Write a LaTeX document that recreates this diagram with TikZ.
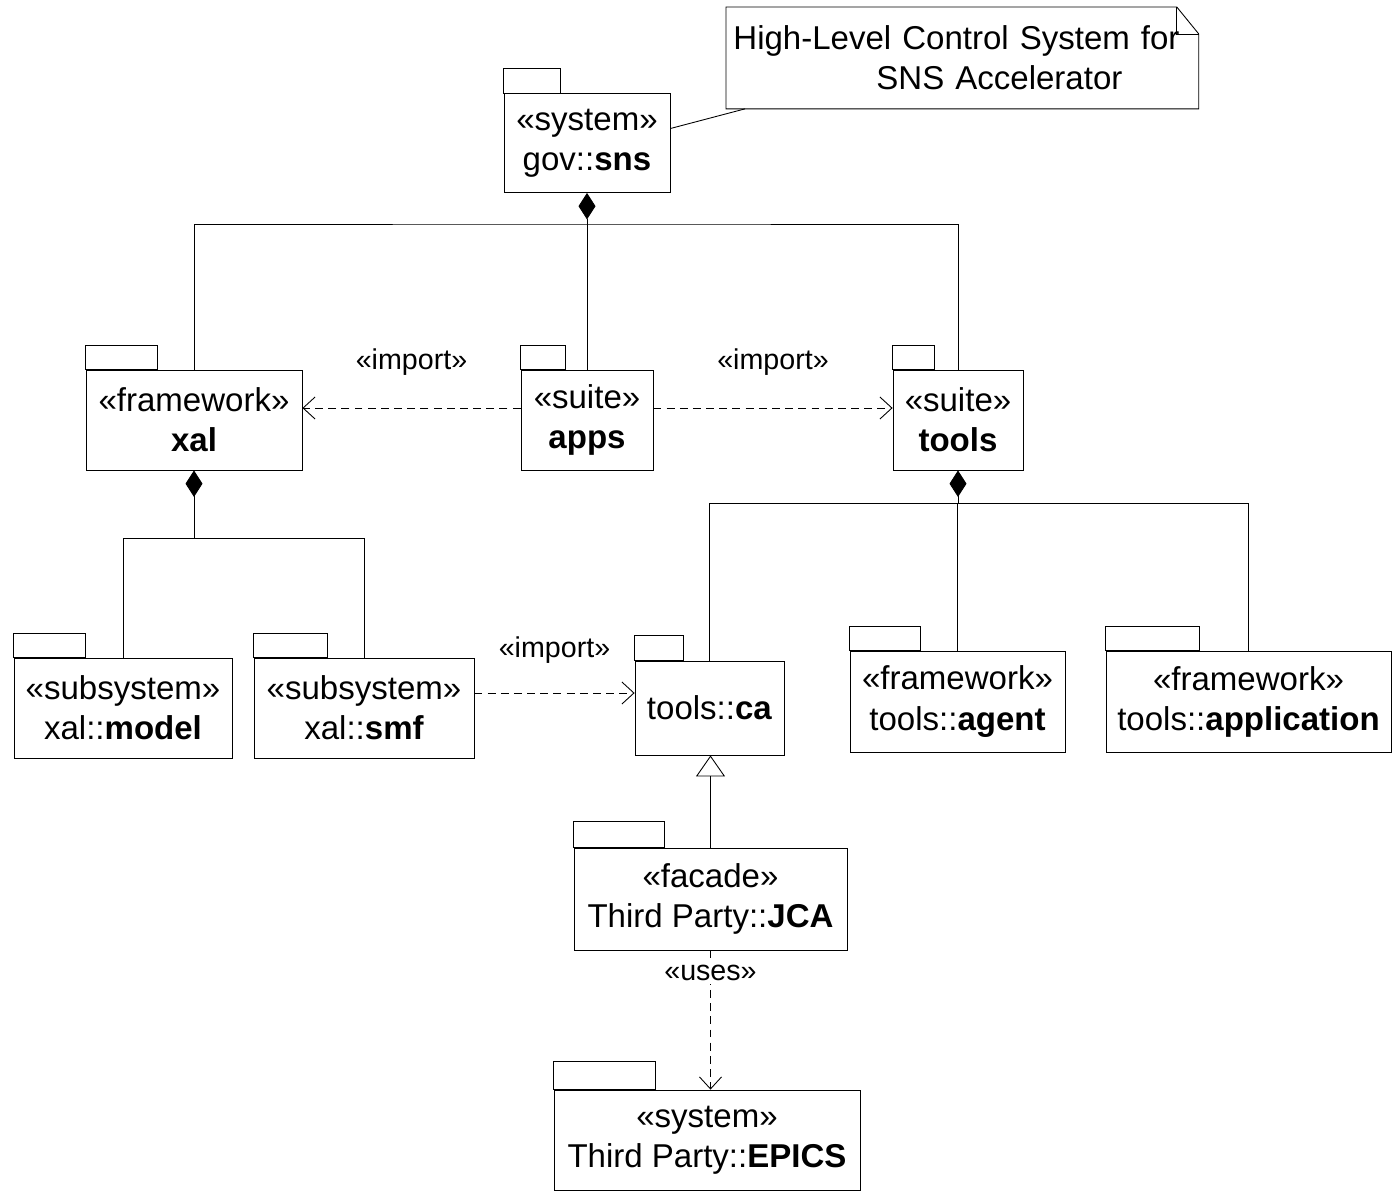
\documentclass[tikz,border=0pt]{standalone}
\usepackage{fontspec}
\setmainfont{Liberation Sans}
\usetikzlibrary{arrows.meta}

\begin{document}
\begin{tikzpicture}[x=0.02cm, y=-0.02cm, line width=0.5pt,
  pkg/.style={draw, inner sep=0pt, align=center, font=\fontsize{18.8}{22.8}\selectfont},
  lbl/.style={font=\fontsize{16.3}{19}\selectfont},
  comp/.style={-{Diamond[length=0.53cm, width=0.34cm]}},
  gen/.style={-{Triangle[open, length=0.42cm, width=0.58cm]}},
  dep/.style={dash pattern=on 4.5pt off 3pt, -{Straight Barb[length=0.24cm, width=0.44cm]}}]
  \useasboundingbox (0,0) rectangle (1393,1191);

  % packages
  \node[pkg, minimum width=3.32cm, minimum height=1.98cm] (sns) at (587,143) {«system»\\gov::\textbf{sns}};
  \draw (sns.north west) rectangle ++(57,-25);
  \node[pkg, minimum width=4.32cm, minimum height=2cm] (xal) at (194,420) {«framework»\\\textbf{xal}};
  \draw (xal.north west) rectangle ++(72,-24);
  \node[pkg, minimum width=2.64cm, minimum height=2cm] (apps) at (587,420) {«suite»\\\textbf{apps}};
  \draw (apps.north west) rectangle ++(45,-24);
  \node[pkg, minimum width=2.6cm, minimum height=2cm] (tools) at (958,420) {«suite»\\\textbf{tools}};
  \draw (tools.north west) rectangle ++(42,-24);
  \node[pkg, minimum width=4.36cm, minimum height=2cm] (model) at (123,708) {«subsystem»\\xal::\textbf{model}};
  \draw (model.north west) rectangle ++(72,-24);
  \node[pkg, minimum width=4.4cm, minimum height=2cm] (smf) at (364,708) {«subsystem»\\xal::\textbf{smf}};
  \draw (smf.north west) rectangle ++(74,-24);
  \node[pkg, minimum width=2.98cm, minimum height=1.88cm] (ca) at (709.5,708) {tools::\textbf{ca}};
  \draw (ca.north west) rectangle ++(49,-25);
  \node[pkg, minimum width=4.3cm, minimum height=2.02cm] (agent) at (957.5,701.5) {«framework»\\tools::\textbf{agent}};
  \draw (agent.north west) rectangle ++(71,-24);
  \node[pkg, minimum width=5.7cm, minimum height=2.02cm] (application) at (1248.5,701.5) {«framework»\\tools::\textbf{application}};
  \draw (application.north west) rectangle ++(94,-24);
  \node[pkg, minimum width=5.46cm, minimum height=2.04cm] (JCA) at (710.5,899) {«facade»\\Third Party::\textbf{JCA}};
  \draw (JCA.north west) rectangle ++(91,-26);
  \node[pkg, minimum width=6.12cm, minimum height=2cm] (EPICS) at (707,1140) {«system»\\Third Party::\textbf{EPICS}};
  \draw (EPICS.north west) rectangle ++(102,-28);

  % note
  \node[anchor=north west, inner sep=0pt, inner xsep=0.14cm, text width=9.16cm, minimum height=2.02cm,
    align=left, font=\fontsize{18.8}{22.8}\selectfont] (note) at (726,7)
    {High-Level Control System for\\\hspace*{2.86cm}SNS Accelerator};
  \draw (note.north west) -- ([xshift=-0.44cm]note.north east) -- ([yshift=-0.54cm]note.north east)
    -- (note.south east) -- (note.south west) -- cycle;
  \draw ([xshift=-0.44cm]note.north east) |- ([yshift=-0.54cm]note.north east);
  \draw ([yshift=0.29cm]sns.east) -- ([xshift=0.38cm]note.south west);

  % composition
  \coordinate (snsj) at (sns.south |- 0,224);
  \draw[comp] (apps.north) -- (sns.south);
  \draw (xal.north) |- (snsj) -| (tools.north);
  \coordinate (xalj) at (xal.south |- 0,538);
  \draw[comp] (xalj) -- (xal.south);
  \draw (model.north) |- (xalj) -| (smf.north);
  \coordinate (toolsj) at (tools.south |- 0,503);
  \draw[comp] (toolsj) -- (tools.south);
  \draw (ca.north) |- (toolsj) -| (application.north);
  \draw (agent.north) -- (agent.north |- toolsj);

  % dependencies
  \draw[dep] ([yshift=0.24cm]apps.west) -- ([yshift=0.24cm]xal.east) node[lbl, midway, yshift=0.92cm] (imp1) {«import»};
  \draw[dep] ([yshift=0.24cm]apps.east) -- ([yshift=0.24cm]tools.west) node[lbl, midway, yshift=0.92cm] (imp2) {«import»};
  \draw[dep] ([yshift=0.3cm]smf.east) -- ([yshift=0.3cm]smf.east -| ca.west) node[lbl, midway, yshift=0.86cm] (imp3) {«import»};
  \draw[gen] (JCA.north) -- (JCA.north |- ca.south);
  \draw[dep] (JCA.south) -- (JCA.south |- EPICS.north) node[lbl, pos=0.16, fill=white, inner sep=2pt] (uses) {«uses»};
\end{tikzpicture}
\end{document}
